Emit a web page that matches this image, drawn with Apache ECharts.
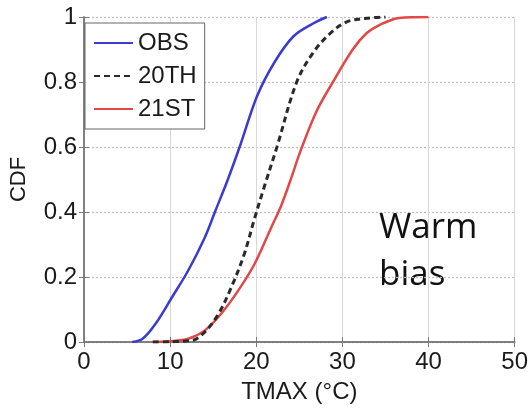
<!DOCTYPE html>
<html>
<head>
<meta charset="utf-8">
<script src="https://cdn.jsdelivr.net/npm/echarts@6/dist/echarts.min.js"></script>
<style>
  html, body { margin: 0; padding: 0; background: #fff; }
  #chart { width: 531px; height: 409px; }
</style>
</head>
<body>
<div id="chart"></div>
<script>
// Empirical CDFs of daily maximum temperature (TMAX, °C)
const obsTemp = [5.6, 6.8, 8.3, 10.2, 12.1, 14.0, 15.2, 16.7, 18.2, 20.1, 22.1, 24.3, 26.6, 28.2];
const obsCdf  = [0, 0.01, 0.056, 0.137, 0.22, 0.32, 0.40, 0.50, 0.61, 0.757, 0.86, 0.94, 0.98, 1.0];

const c20Temp = [8.0, 12.5, 14.0, 15.6, 17.1, 18.6, 19.8, 20.9, 22.4, 24.7, 26.6, 28.6, 30.5, 32.8, 35.0];
const c20Cdf  = [0, 0.005, 0.03, 0.086, 0.168, 0.27, 0.38, 0.475, 0.60, 0.80, 0.89, 0.95, 0.985, 0.996, 1.0];

const c21Temp = [7.9, 10.0, 12.1, 14.0, 15.9, 17.9, 19.8, 21.7, 22.9, 24.0, 25.1, 27.0, 28.9, 31.2, 32.8, 34.3, 36.6, 40.0];
const c21Cdf  = [0, 0.002, 0.01, 0.035, 0.086, 0.158, 0.24, 0.35, 0.42, 0.50, 0.585, 0.71, 0.80, 0.90, 0.95, 0.975, 0.997, 1.0];

const seriesNames = ['OBS', '20TH', '21ST'];
const xTicks = { min: 0, max: 50, step: 10 };
const yTicks = { min: 0, max: 1, step: 0.2 };

const pairs = (xs, ys) => xs.map((x, i) => [x, ys[i]]);

const labelFont = 'Liberation Sans, Arial, sans-serif';
const frameColor = '#7a7a7a';

const chart = echarts.init(document.getElementById('chart'), null, { renderer: 'canvas' });

const hiddenAxis = {
  axisLine: { show: true, lineStyle: { color: frameColor, width: 1.5 } },
  axisTick: { show: true, inside: true, length: 5, lineStyle: { color: frameColor } },
  axisLabel: { show: false },
  splitLine: { show: false }
};

const curve = (name, xs, ys, color, width, type, z) => ({
  name, type: 'line', symbol: 'none', smooth: 0.35,
  data: pairs(xs, ys),
  lineStyle: { color, width, type },
  itemStyle: { color }, z
});

chart.setOption({
  animation: false,
  backgroundColor: '#fff',
  grid: { left: 81, right: 14, top: 17, bottom: 64, containLabel: false },
  legend: {
    orient: 'vertical',
    left: 85,
    top: 23,
    padding: [8, 8, 8, 8],
    itemWidth: 39,
    itemHeight: 14,
    itemGap: 9,
    borderColor: '#666',
    borderWidth: 1,
    backgroundColor: '#fff',
    itemStyle: { opacity: 0 },
    textStyle: { fontFamily: labelFont, fontSize: 24, color: '#1a1a1a' },
    data: seriesNames
  },
  xAxis: [
    {
      type: 'value', min: xTicks.min, max: xTicks.max, interval: xTicks.step,
      name: 'TMAX (°C)', nameLocation: 'middle', nameGap: 38,
      nameTextStyle: { fontFamily: labelFont, fontSize: 24, color: '#1a1a1a' },
      axisLine: { show: true, lineStyle: { color: frameColor, width: 1.5 } },
      axisTick: { show: true, inside: true, length: 5, lineStyle: { color: frameColor } },
      axisLabel: { margin: 8, fontFamily: labelFont, fontSize: 24, color: '#1a1a1a' },
      splitLine: { show: true, lineStyle: { color: '#d8d8d8', width: 1, type: 'solid' } }
    },
    Object.assign({ type: 'value', position: 'top', min: xTicks.min, max: xTicks.max, interval: xTicks.step }, hiddenAxis)
  ],
  yAxis: [
    {
      type: 'value', min: yTicks.min, max: yTicks.max, interval: yTicks.step,
      name: 'CDF', nameLocation: 'middle', nameGap: 54,
      nameTextStyle: { fontFamily: labelFont, fontSize: 22, color: '#1a1a1a' },
      axisLine: { show: true, lineStyle: { color: frameColor, width: 1.5 } },
      axisTick: { show: true, inside: true, length: 5, lineStyle: { color: frameColor } },
      axisLabel: { margin: 7, fontFamily: labelFont, fontSize: 24, color: '#1a1a1a' },
      splitLine: { show: true, lineStyle: { color: '#bdbdbd', width: 1.2, type: [2, 2] } }
    },
    Object.assign({ type: 'value', position: 'right', min: yTicks.min, max: yTicks.max, interval: yTicks.step }, hiddenAxis)
  ],
  graphic: [
    {
      type: 'text', left: 379, top: 205,
      style: { text: 'Warm\nbias', fontFamily: '"Open Sans", sans-serif', fontSize: 35, lineHeight: 47, fill: '#111' }
    }
  ],
  series: [
    curve(seriesNames[0], obsTemp, obsCdf, '#3b3bd2', 2.5, 'solid', 3),
    curve(seriesNames[1], c20Temp, c20Cdf, '#2a2a2a', 3, [6, 4], 4),
    curve(seriesNames[2], c21Temp, c21Cdf, '#e24848', 2.5, 'solid', 2)
  ]
});
</script>
</body>
</html>
